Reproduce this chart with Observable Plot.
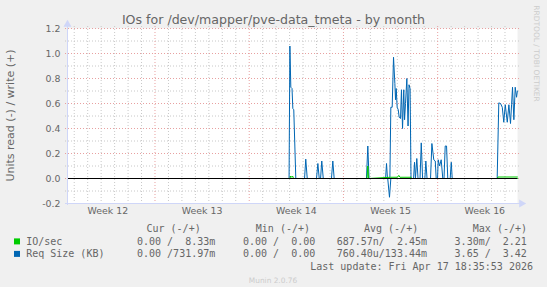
<!DOCTYPE html>
<html><head><meta charset="utf-8">
<script src="https://cdn.jsdelivr.net/npm/d3@7"></script>
<script src="https://cdn.jsdelivr.net/npm/@observablehq/plot@0.6"></script>
<style>
html,body{margin:0;padding:0;background:#f0f0f0;}
#chart{position:relative;width:547px;height:287px;background:#f0f0f0;overflow:hidden;}
#chart svg{position:absolute;left:0;top:0;}
</style></head><body><div id="chart"></div>
<script>
// ---- data (x in days from left edge of the month window) ----
const xEnd = 33.43;
const weekLabels = ["Week 12", "Week 13", "Week 14", "Week 15", "Week 16"];
const weekCenters = [3, 10, 17, 24, 31];
const weekLines = [6.5, 13.5, 20.5, 27.5];
const yLabels = [-0.2, 0, 0.2, 0.4, 0.6, 0.8, 1.0, 1.2];
const yMajor = [0, 0.2, 0.4, 0.6, 0.8, 1.0, 1.2];
const yMinor = [-0.1, 0.1, 0.3, 0.5, 0.7, 0.9, 1.1];

// Req Size (KB) write (+)
const reqWriteX = [16.46,16.52,16.59,16.68,16.74,16.81,16.96, 17.61,17.70,17.81, 18.50,18.60,18.70, 18.80,18.89,19.00, 19.61,19.71,19.81, 22.21,22.31,22.40, 23.63,23.70,23.77,
  23.95,24.02,24.12,24.22,24.32,24.37,24.42,24.49,24.57,24.64,24.74,24.81,24.89,24.98,25.04,25.11,25.21,25.30,25.37,25.45,25.52,
  25.71,25.78,25.85,25.95,26.04, 26.19,26.28,26.38, 26.55,26.62,26.71, 26.97,27.07,27.21,27.32,27.39, 27.49,27.54,27.64,27.76,27.88,
  27.97,28.06,28.16,28.25, 28.43,28.51,28.58,
  31.92,32.04,32.17,32.30,32.41,32.52,32.67,32.79,32.91,32.99,33.06,33.16,33.26,33.36,33.42];
const reqWriteY = [0,1.06,0.73,0.72,0.56,0.55,0, 0,0.155,0, 0,0.12,0, 0,0.14,0, 0,0.14,0, 0,0.26,0, 0,0.12,0,
  0,0.57,0.57,0.97,0.76,0.63,0.72,0.57,0.55,0.49,0.48,0.71,0.40,0.71,0.47,0.60,0.80,0.42,0.75,0.72,0,
  0,0.13,0,0.16,0, 0,0.285,0, 0,0.14,0, 0,0.28,0.15,0.14,0, 0,0.15,0.10,0.15,0,
  0,0.26,0.26,0, 0,0.13,0,
  0,0.605,0.60,0.57,0.45,0.59,0.45,0.59,0.44,0.59,0.73,0.47,0.73,0.65,0.70];
// Req Size (KB) read (-)
const reqReadX = [16.46, 23.79, 23.92, 24.02, 33.42];
const reqReadY = [0, 0, -0.15, 0, 0];
// IO/sec write (+)
const ioWriteX = [16.53,16.57,16.64,16.72,16.79, 22.25,22.31,22.36, 24.00,24.52,24.61,24.70,25.52,25.56, 31.92,31.98,33.42];
const ioWriteY = [0,0.02,0.01,0.02,0, 0,0.10,0, 0.01,0.01,0.025,0.01,0.01,0, 0,0.012,0.012];
// IO/sec read (-)
const ioReadX = [16.46, 33.42];
const ioReadY = [0, 0];

// legend
const legendHeaders = ["Cur (-/+)", "Min (-/+)", "Avg (-/+)", "Max (-/+)"];
const legendNames = ["IO/sec", "Req Size (KB)"];
const legendColors = ["#00cc00", "#0066b3"];
const legendCur = ["0.00 /  8.33m", "0.00 /731.97m"];
const legendMin = ["0.00 /  0.00", "0.00 /  0.00"];
const legendAvg = ["687.57n/  2.45m", "760.40u/133.44m"];
const legendMax = ["3.30m/  2.21", "3.65 /  3.42"];
const titleText = "IOs for /dev/mapper/pve-data_tmeta - by month";
const yTitle = "Units read (-) / write (+)";
const lastUpdate = "Last update: Fri Apr 17 18:35:53 2026";
const munin = "Munin 2.0.76";
const rrd = "RRDTOOL / TOBI OETIKER";

// ---- build ----
const pts = (xs, ys) => xs.map((x, i) => ({x, y: ys[i]}));
const dayLines = d3.range(0.5, xEnd, 1).filter(d => !weekLines.includes(d));
const axisColor = "#cfd6f8";
const minorColor = "#c8c8c8";
const majorColor = "#e8a0a0";

const plot = Plot.plot({
  width: 547, height: 287,
  marginLeft: 67, marginRight: 30, marginTop: 28, marginBottom: 84,
  style: {background: "transparent", fontFamily: "DejaVu Sans", fontSize: "9.4px", color: "#666", overflow: "visible"},
  x: {domain: [0, xEnd], axis: null},
  y: {domain: [-0.2, 1.2], axis: null},
  marks: [
    Plot.frame({fill: "#ffffff", stroke: null}),
    Plot.ruleY(yMinor, {stroke: minorColor, strokeDasharray: "1,2", insetLeft: -2, insetRight: -2}),
    Plot.ruleX(dayLines, {stroke: minorColor, strokeDasharray: "1,2", insetTop: -2, insetBottom: -2}),
    Plot.ruleY(yMajor, {stroke: majorColor, strokeDasharray: "1,2", insetLeft: -2, insetRight: -2}),
    Plot.ruleX(weekLines, {stroke: majorColor, strokeDasharray: "1,2", insetTop: -2, insetBottom: -2}),
    Plot.line(pts(reqReadX, reqReadY), {x: "x", y: "y", stroke: "#0066b3", strokeWidth: 1}),
    Plot.line(pts(reqWriteX, reqWriteY), {x: "x", y: "y", stroke: "#0066b3", strokeWidth: 1}),
    Plot.line(pts(ioReadX, ioReadY), {x: "x", y: "y", stroke: "#00cc00", strokeWidth: 1}),
    Plot.line(pts(ioWriteX, ioWriteY), {x: "x", y: "y", stroke: "#00cc00", strokeWidth: 1}),
    Plot.ruleY([0], {stroke: "#000000", strokeWidth: 1}),
    Plot.ruleY([-0.2], {stroke: axisColor, insetLeft: -2, insetRight: -3}),
    Plot.ruleX([0], {stroke: axisColor, insetBottom: -2, insetTop: -3}),
    Plot.dot([xEnd], {x: d => d, y: () => -0.2, symbol: "triangle", rotate: 90, r: 3, fill: axisColor, stroke: null, dx: 4}),
    Plot.dot([0], {x: d => d, y: () => 1.2, symbol: "triangle", r: 3, fill: axisColor, stroke: null, dy: -4}),
    Plot.axisY({ticks: yLabels, label: null, tickSize: 0, tickPadding: 7, tickFormat: d => d.toFixed(1), fill: "#666"}),
    Plot.axisX({ticks: weekCenters, label: null, tickSize: 0, tickPadding: 4, tickFormat: d => weekLabels[weekCenters.indexOf(d)], fill: "#666"})
  ]
});
document.getElementById("chart").appendChild(plot);

// overlay text
const svg = d3.select("#chart").append("svg")
  .attr("width", 547).attr("height", 287)
  .style("pointer-events", "none");
const sans = "DejaVu Sans", mono = "DejaVu Sans Mono";

svg.append("text").attr("x", 273.5).attr("y", 24).attr("text-anchor", "middle")
  .attr("font-family", sans).attr("font-size", 12.6).attr("fill", "#666").text(titleText);
svg.append("text").attr("transform", "translate(14,115.5) rotate(-90)").attr("text-anchor", "middle")
  .attr("font-family", sans).attr("font-size", 11).attr("fill", "#666").text(yTitle);
svg.append("text").attr("transform", "translate(533.5,53.5) rotate(90)").attr("text-anchor", "middle")
  .attr("font-family", sans).attr("font-size", 7.5).attr("fill", "#cccccc").text(rrd);

const hx = [146.5, 255.8, 364, 472.8];
legendHeaders.forEach((h, i) => {
  svg.append("text").attr("x", hx[i]).attr("y", 231.5).attr("font-family", mono).attr("font-size", 10)
    .attr("fill", "#666").style("white-space", "pre").text(h);
});
const cols = [legendCur, legendMin, legendAvg, legendMax];
const cx = [137, 243, 336.7, 454.6];
const rowY = [244.7, 257.2];
legendNames.forEach((n, r) => {
  svg.append("rect").attr("x", 14).attr("y", rowY[r] - 6.3).attr("width", 6).attr("height", 6).attr("fill", legendColors[r]);
  svg.append("text").attr("x", 26.2).attr("y", rowY[r]).attr("font-family", mono).attr("font-size", 10)
    .attr("fill", "#666").style("white-space", "pre").text(n);
  cols.forEach((c, i) => {
    svg.append("text").attr("x", cx[i]).attr("y", rowY[r]).attr("font-family", mono).attr("font-size", 10)
      .attr("fill", "#666").style("white-space", "pre").text(c[r]);
  });
});
svg.append("text").attr("x", 533).attr("y", 269.5).attr("text-anchor", "end").attr("font-family", mono)
  .attr("font-size", 10).attr("fill", "#666").style("white-space", "pre").text(lastUpdate);
svg.append("text").attr("x", 273).attr("y", 283).attr("text-anchor", "middle").attr("font-family", sans)
  .attr("font-size", 7.4).attr("fill", "#cccccc").text(munin);
</script></body></html>
